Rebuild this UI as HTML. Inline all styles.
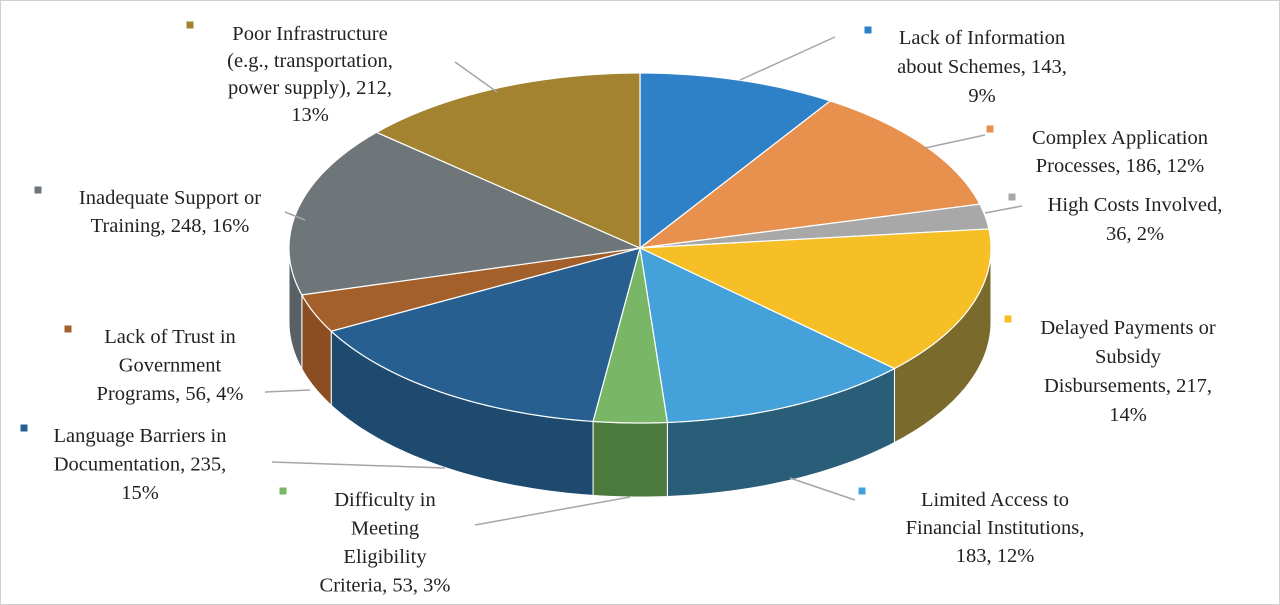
<!DOCTYPE html>
<html><head><meta charset="utf-8">
<style>
html,body{margin:0;padding:0;background:#fff;}
#wrap{position:relative;width:1280px;height:605px;overflow:hidden;}
svg text{font-family:"Liberation Serif",serif;font-size:20.5px;fill:#222;}
</style></head>
<body>
<div id="wrap">
<svg id="chart" width="1280" height="605">
<rect x="0.5" y="0.5" width="1279" height="604" fill="#fff" stroke="#d0d0d0"/>
<g id="sides"></g><g id="tops"></g><g id="leaders"></g><g id="labels"></g>
</svg>
</div>
<script>
const categories = ["Lack of Information about Schemes","Complex Application Processes","High Costs Involved","Delayed Payments or Subsidy Disbursements","Limited Access to Financial Institutions","Difficulty in Meeting Eligibility Criteria","Language Barriers in Documentation","Lack of Trust in Government Programs","Inadequate Support or Training","Poor Infrastructure (e.g., transportation, power supply)"];
const values = [143,186,36,217,183,53,235,56,248,212];
const percents = ["9%","12%","2%","14%","12%","3%","15%","4%","16%","13%"];
const labelLines = [
 ["Lack of Information","about Schemes, 143,","9%"],
 ["Complex Application","Processes, 186, 12%"],
 ["High Costs Involved,","36, 2%"],
 ["Delayed Payments or","Subsidy","Disbursements, 217,","14%"],
 ["Limited Access to","Financial Institutions,","183, 12%"],
 ["Difficulty in","Meeting","Eligibility","Criteria, 53, 3%"],
 ["Language Barriers in","Documentation, 235,","15%"],
 ["Lack of Trust in","Government","Programs, 56, 4%"],
 ["Inadequate Support or","Training, 248, 16%"],
 ["Poor Infrastructure","(e.g., transportation,","power supply), 212,","13%"]
];
const topColors = ["#2e81c6","#e8914f","#a8a8a8","#f5bf25","#45a1d9","#79b665","#276090","#a4602b","#6f7679","#a3832f"];
const sideColors = ["#1f5a8c","#a8663a","#7a7a7a","#7a6a2c","#2a5e78","#4c7a3d","#1f4a70","#8a4e22","#5a6166","#7a6224"];
// label layout (center x, first line y, line spacing)
const labelPos = [[982,37,29],[1120,137,28],[1135,204,29],[1128,327,29],[995,499,28],[385,499,28.5],[140,435,28.5],[170,336,28.5],[170,197,28],[310,33,27]];
const markerPos = [[868,30],[990,129],[1012,197],[1008,319],[862,491],[283,491],[24,428],[68,329],[38,190],[190,25]];
const leaders = [[[740,80],[835,37]],[[925,148],[985,135]],[[985,213],[1022,206]],null,[[790,478],[855,500]],[[475,525],[630,497]],[[272,462],[445,468]],[[265,392],[310,390]],[[285,212],[305,220]],[[455,62],[497,92]]];

const cx=640, cy=248, rx=351, ry=175, depth=74;
const NS="http://www.w3.org/2000/svg";
const total = values.reduce((a,b)=>a+b,0);
function pt(t,dy){return [cx+rx*Math.sin(t), cy-ry*Math.cos(t)+(dy||0)];}
function arc(a,b,dy){const n=Math.max(2,Math.ceil((b-a)/0.02));const p=[];for(let i=0;i<=n;i++){p.push(pt(a+(b-a)*i/n,dy));}return p;}
const sides=document.getElementById('sides'), tops=document.getElementById('tops');
let acc=0;
values.forEach((v,i)=>{
  const a=acc/total*2*Math.PI; acc+=v; const b=acc/total*2*Math.PI;
  const lo=Math.max(a,Math.PI/2), hi=Math.min(b,3*Math.PI/2);
  if(hi>lo){
    const pts=arc(lo,hi,0).concat(arc(lo,hi,depth).reverse());
    const s=document.createElementNS(NS,'polygon');
    s.setAttribute('points',pts.map(p=>p.join(',')).join(' '));
    s.setAttribute('fill',sideColors[i]);s.setAttribute('stroke','#fff');s.setAttribute('stroke-width','1');
    
    
    sides.appendChild(s);
  }
  const tp=[[cx,cy]].concat(arc(a,b,0));
  const t=document.createElementNS(NS,'polygon');
  t.setAttribute('points',tp.map(p=>p.join(',')).join(' '));
  t.setAttribute('fill',topColors[i]);t.setAttribute('stroke','#fff');t.setAttribute('stroke-width','1.2');
  
  
  tops.appendChild(t);
});
const lg=document.getElementById('leaders');
leaders.forEach((l,i)=>{if(!l)return;
  const ln=document.createElementNS(NS,'line');
  ln.setAttribute('x1',l[0][0]);ln.setAttribute('y1',l[0][1]);ln.setAttribute('x2',l[1][0]);ln.setAttribute('y2',l[1][1]);
  ln.setAttribute('stroke','#a6a6a6');ln.setAttribute('stroke-width','1.5');
  
  
  lg.appendChild(ln);
});
const lb=document.getElementById('labels');
labelLines.forEach((lines,i)=>{
  const g=document.createElementNS(NS,'g');
  
  
  const m=document.createElementNS(NS,'rect');
  m.setAttribute('x',markerPos[i][0]-3.5);m.setAttribute('y',markerPos[i][1]-3.5);m.setAttribute('width',7);m.setAttribute('height',7);
  m.setAttribute('fill',topColors[i]);
  
  
  g.appendChild(m);
  const [x,y,dy]=labelPos[i];
  lines.forEach((s,j)=>{
    const t=document.createElementNS(NS,'text');
    t.setAttribute('x',x);t.setAttribute('y',y+j*dy+7);t.setAttribute('text-anchor','middle');
    t.textContent=s;
    g.appendChild(t);
  });
  lb.appendChild(g);
});
</script>
</body></html>
